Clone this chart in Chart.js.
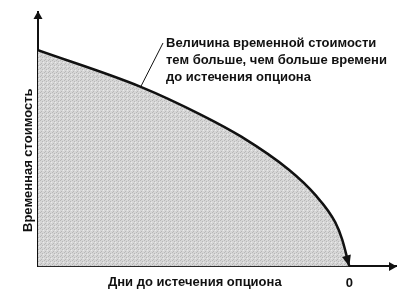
<!DOCTYPE html>
<html>
<head>
<meta charset="utf-8">
<script src="https://cdn.jsdelivr.net/npm/chart.js@4.4.1/dist/chart.umd.min.js"></script>
<style>
  body { margin: 0; background: #fff; }
</style>
</head>
<body>
<canvas id="timeChart" width="405" height="301"></canvas>
<script>
// days left to expiration (left = far from expiry, right = 0)
var daysLeft = [100, 67, 47.6, 34.7, 19.4, 11, 4.5, 2.3, 0];
// time value of the option
var timeValue = [85, 70.6, 59.6, 51, 38, 28.2, 17.3, 10.6, 0];
var xTicks = [0];
var xLabel = 'Дни до истечения опциона';
var yLabel = 'Временная стоимость';
var noteLines = ['Величина временной стоимости', 'тем больше, чем больше времени', 'до истечения опциона'];
var noteDay = 67; // point the leader line goes to

var FONT = 'bold 13px "Liberation Sans", Arial, sans-serif';
var INK = '#111';

// light grey stipple for the area
function stipple() {
  var c = document.createElement('canvas');
  c.width = 4; c.height = 4;
  var g = c.getContext('2d');
  g.fillStyle = '#d6d6d6';
  g.fillRect(0, 0, 4, 4);
  g.fillStyle = '#b8b8b8';
  g.fillRect(0, 0, 1, 1);
  g.fillRect(2, 1, 1, 1);
  g.fillRect(1, 3, 1, 1);
  g.fillStyle = '#ebebeb';
  g.fillRect(3, 2, 1, 1);
  return g.createPattern(c, 'repeat');
}

function arrowHead(ctx, x, y, ang, len, half) {
  ctx.save();
  ctx.translate(x, y);
  ctx.rotate(ang);
  ctx.beginPath();
  ctx.moveTo(0, 0);
  ctx.lineTo(-len, -half);
  ctx.lineTo(-len, half);
  ctx.closePath();
  ctx.fill();
  ctx.restore();
}

var decor = {
  id: 'decor',
  afterDraw: function (chart) {
    var ctx = chart.ctx, a = chart.chartArea;
    var xs = chart.scales.x, ys = chart.scales.y;
    ctx.save();
    ctx.fillStyle = INK;
    ctx.strokeStyle = INK;

    // axis arrows
    arrowHead(ctx, a.left, a.top - 1, -Math.PI / 2, 8, 4.5);
    arrowHead(ctx, a.right + 1, a.bottom, 0, 8, 4.5);

    // arrow at the end of the curve
    var pts = chart.getDatasetMeta(0).data;
    var last = pts[pts.length - 1];
    var fromX = last.cp1x !== undefined ? last.cp1x : pts[pts.length - 2].x;
    var fromY = last.cp1y !== undefined ? last.cp1y : pts[pts.length - 2].y;
    arrowHead(ctx, last.x, last.y, Math.atan2(last.y - fromY, last.x - fromX), 11, 4.5);

    // leader line to the note
    var i = daysLeft.indexOf(noteDay);
    var px = xs.getPixelForValue(noteDay), py = ys.getPixelForValue(timeValue[i]);
    ctx.lineWidth = 1;
    ctx.beginPath();
    ctx.moveTo(px, py);
    ctx.lineTo(163, 43);
    ctx.stroke();

    ctx.font = FONT;
    ctx.textBaseline = 'alphabetic';
    ctx.textAlign = 'left';
    noteLines.forEach(function (t, k) {
      ctx.fillText(t, 166, 47 + k * 17);
    });

    // axis titles
    ctx.fillText(xLabel, 108, 286);
    ctx.save();
    ctx.translate(32, 232);
    ctx.rotate(-Math.PI / 2);
    ctx.fillText(yLabel, 0, 0);
    ctx.restore();

    ctx.restore();
  }
};

new Chart(document.getElementById('timeChart').getContext('2d'), {
  type: 'line',
  data: {
    datasets: [{
      data: daysLeft.map(function (d, i) { return { x: d, y: timeValue[i] }; }),
      borderColor: INK,
      borderWidth: 2.5,
      backgroundColor: stipple(),
      fill: 'origin',
      pointRadius: 0,
      cubicInterpolationMode: 'monotone'
    }]
  },
  options: {
    responsive: false,
    animation: false,
    layout: { padding: { left: 38, right: 9, top: 12, bottom: 1 } },
    plugins: { legend: { display: false }, tooltip: { enabled: false } },
    scales: {
      x: {
        type: 'linear',
        reverse: true,
        min: -15,
        max: 100,
        grid: { display: false, drawTicks: false },
        border: { color: INK, width: 2 },
        afterBuildTicks: function (s) { s.ticks = xTicks.map(function (v) { return { value: v }; }); },
        ticks: { color: INK, font: { family: '"Liberation Sans", Arial, sans-serif', size: 13, weight: 'bold' }, padding: 9, autoSkip: false, maxRotation: 0 }
      },
      y: {
        min: 0,
        max: 100,
        grid: { display: false, drawTicks: false },
        border: { color: INK, width: 2 },
        ticks: { display: false }
      }
    }
  },
  plugins: [decor]
});
</script>
</body>
</html>
